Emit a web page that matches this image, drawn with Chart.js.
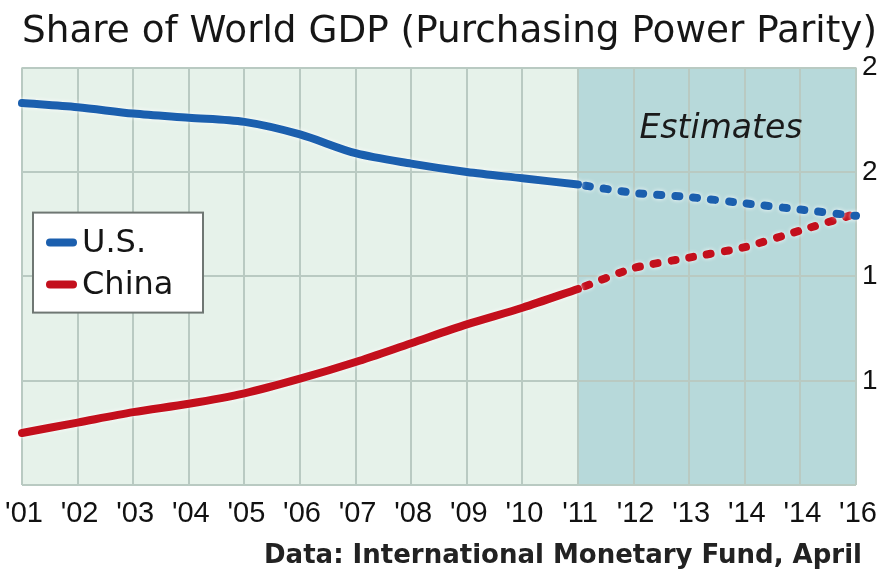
<!DOCTYPE html>
<html>
<head>
<meta charset="utf-8">
<script src="https://cdn.jsdelivr.net/npm/chart.js@4/dist/chart.umd.min.js"></script>
<style>
  html, body { margin: 0; padding: 0; background: #ffffff; overflow: hidden; }
  #wrap { width: 877px; height: 570px; position: relative; }
</style>
</head>
<body>
<div id="wrap"><canvas id="c"></canvas></div>
<script>
// ---- data ----
const years = ["'01","'02","'03","'04","'05","'06","'07","'08","'09","'10","'11","'12","'13","'14","'14","'16"];
const usActual    = [23.3, 23.1, 22.8, 22.6, 22.4, 21.8, 20.9, 20.4, 20.0, 19.7, 19.4, null, null, null, null, null];
const usEstimate  = [null, null, null, null, null, null, null, null, null, null, 19.4, 19.0, 18.8, 18.5, 18.2, 17.9];
const cnActual    = [7.5, 8.0, 8.5, 8.9, 9.4, 10.1, 10.9, 11.8, 12.7, 13.5, 14.4, null, null, null, null, null];
const cnEstimate  = [null, null, null, null, null, null, null, null, null, null, 14.4, 15.4, 15.9, 16.4, 17.2, 18.0];
const yTicks      = [5, 10, 15, 20, 25];
const yTickLabels = ['', '10', '15', '20', '25'];
const estimateStartIndex = 10;
const titleText = 'Share of World GDP (Purchasing Power Parity)';
const sourceText = 'Data: International Monetary Fund, April';
const estimatesLabel = 'Estimates';

const US_BLUE = '#1b5fae';
const CN_RED = '#c30f1c';

const backgroundPlugin = {
  id: 'bg',
  beforeDraw(chart) {
    const { ctx, chartArea: a, scales: { x } } = chart;
    const xs = x.getPixelForValue(estimateStartIndex);
    ctx.save();
    ctx.fillStyle = '#e6f2ea';
    ctx.fillRect(a.left, a.top, xs - a.left, a.bottom - a.top);
    ctx.fillStyle = '#b7d9da';
    ctx.fillRect(xs, a.top, a.right - xs, a.bottom - a.top);
    ctx.restore();
  }
};

const haloPlugin = {
  id: 'halo',
  beforeDatasetDraw(chart) {
    chart.ctx.save();
    chart.ctx.shadowColor = 'rgba(255,255,255,0.95)';
    chart.ctx.shadowBlur = 4;
  },
  afterDatasetDraw(chart) {
    chart.ctx.restore();
  }
};

const annotPlugin = {
  id: 'annot',
  afterDatasetsDraw(chart) {
    const { ctx, chartArea: a, scales: { x } } = chart;
    ctx.save();
    // Estimates label
    const xs = x.getPixelForValue(estimateStartIndex);
    ctx.font = 'italic 33px "DejaVu Sans", sans-serif';
    ctx.fillStyle = '#1a1a1a';
    ctx.textAlign = 'center';
    ctx.textBaseline = 'middle';
    ctx.fillText(estimatesLabel, (xs + a.right) / 2 + 4, a.top + 62);

    // Legend box (inside the plot)
    const bx = a.left + 11, by = a.top + 145, bw = 170, bh = 100;
    ctx.fillStyle = '#ffffff';
    ctx.fillRect(bx, by, bw, bh);
    ctx.strokeStyle = '#6f7773';
    ctx.lineWidth = 2;
    ctx.strokeRect(bx, by, bw, bh);
    const items = [chart.data.datasets[0], chart.data.datasets[2]];
    ctx.font = '32px "DejaVu Sans", sans-serif';
    ctx.textAlign = 'left';
    items.forEach((ds, i) => {
      const cy = by + 30 + i * 42;
      ctx.strokeStyle = ds.borderColor;
      ctx.lineWidth = 8;
      ctx.lineCap = 'round';
      ctx.beginPath();
      ctx.moveTo(bx + 17, cy);
      ctx.lineTo(bx + 40, cy);
      ctx.stroke();
      ctx.fillStyle = '#151515';
      ctx.fillText(ds.label, bx + 49, cy + 1);
    });

    // Source note, aligned to right edge of plot
    ctx.font = 'bold 26px "DejaVu Sans", sans-serif';
    ctx.fillStyle = '#222';
    ctx.textAlign = 'right';
    ctx.fillText(sourceText, a.right + 6, chart.height - 14);
    ctx.restore();
  }
};

const solid = (label, data, color) => ({
  label, data, borderColor: color, backgroundColor: color,
  borderWidth: 8, pointRadius: 0, tension: 0.3, borderCapStyle: 'round',
  borderJoinStyle: 'round', spanGaps: false, fill: false
});
const dotted = (label, data, color) => ({
  label, data, borderColor: color, backgroundColor: color,
  borderWidth: 8, pointRadius: 0, tension: 0.2, borderCapStyle: 'round',
  borderDash: [4, 14], borderDashOffset: -8, spanGaps: false, fill: false
});

new Chart(document.getElementById('c'), {
  type: 'line',
  data: {
    labels: years,
    datasets: [
      solid('U.S.', usActual, US_BLUE),
      dotted('U.S. (estimate)', usEstimate, US_BLUE),
      solid('China', cnActual, CN_RED),
      dotted('China (estimate)', cnEstimate, CN_RED)
    ]
  },
  options: {
    responsive: true,
    maintainAspectRatio: false,
    animation: false,
    layout: { padding: { left: 22, top: 0, right: 0, bottom: 28 } },
    plugins: {
      legend: { display: false },
      tooltip: { enabled: false },
      title: {
        display: true,
        text: titleText,
        color: '#161616',
        font: { family: '"DejaVu Sans", sans-serif', size: 38, weight: 'normal' },
        padding: { top: 9, bottom: 13 }
      }
    },
    scales: {
      x: {
        offset: false,
        afterFit(scale) { scale.paddingLeft = 0; scale.paddingRight = 0; },
        grid: { color: '#b9cac2', lineWidth: 2, drawTicks: false },
        border: { display: false },
        ticks: {
          color: '#111',
          padding: 11,
          labelOffset: 2,
          autoSkip: false,
          maxRotation: 0,
          font: { family: '"Liberation Sans", Arial, sans-serif', size: 29 }
        }
      },
      y: {
        position: 'right',
        min: 5, max: 25,
        afterBuildTicks(scale) { scale.ticks = yTicks.map(v => ({ value: v })); },
        afterFit(scale) { scale.width = 21; scale.paddingTop = 0; scale.paddingBottom = 0; },
        grid: { color: '#b9cac2', lineWidth: 2, drawTicks: false },
        border: { display: false },
        ticks: {
          color: '#111',
          padding: 6,
          callback(value) { const i = yTicks.indexOf(value); return i >= 0 ? yTickLabels[i] : ''; },
          font: { family: '"Liberation Sans", Arial, sans-serif', size: 28 }
        }
      }
    }
  },
  plugins: [backgroundPlugin, haloPlugin, annotPlugin]
});
</script>
</body>
</html>
